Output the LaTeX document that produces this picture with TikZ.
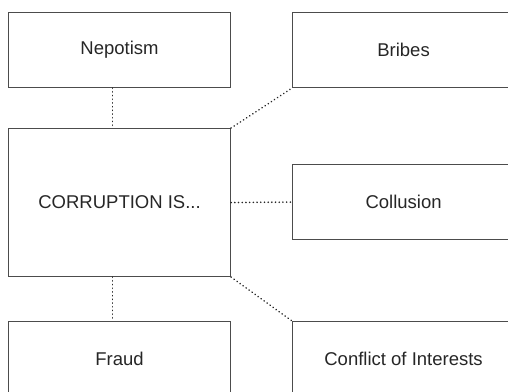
\documentclass[tikz,border=0pt]{standalone}
\usepackage{fontspec}
\setmainfont{Liberation Sans}
\begin{document}
\begin{tikzpicture}[x=1pt,y=-1pt,
  box/.style={draw=black!70, line width=1.1pt, rectangle, minimum width=222pt, minimum height=75pt, anchor=north west, inner sep=0pt, font=\fontsize{18.5}{21}\selectfont, text=black!85},
  link/.style={draw=black!85, line width=1.7pt, dash pattern=on 0.1pt off 3.6pt, line cap=round}]
\useasboundingbox (0,0) rectangle (508,391);
\clip (0,0) rectangle (508,391);
\node[box] (nep) at (8,12) {Nepotism};
\node[box] (bri) at (292,12) {Bribes};
\node[box, minimum height=148pt] (cor) at (8,128) {CORRUPTION IS...};
\node[box] (col) at (292,164) {Collusion};
\node[box] (fra) at (8,321) {Fraud};
\node[box] (con) at (292,321) {Conflict of Interests};
\draw[link] ([xshift=-7pt]nep.south) -- ([xshift=-7pt]cor.north);
\draw[link] ([xshift=-7pt]cor.south) -- ([xshift=-7pt]fra.north);
\draw[link] (cor.north east) -- (bri.south west);
\draw[link] (cor.east) -- (col.west);
\draw[link] (cor.south east) -- (con.north west);
\end{tikzpicture}
\end{document}
